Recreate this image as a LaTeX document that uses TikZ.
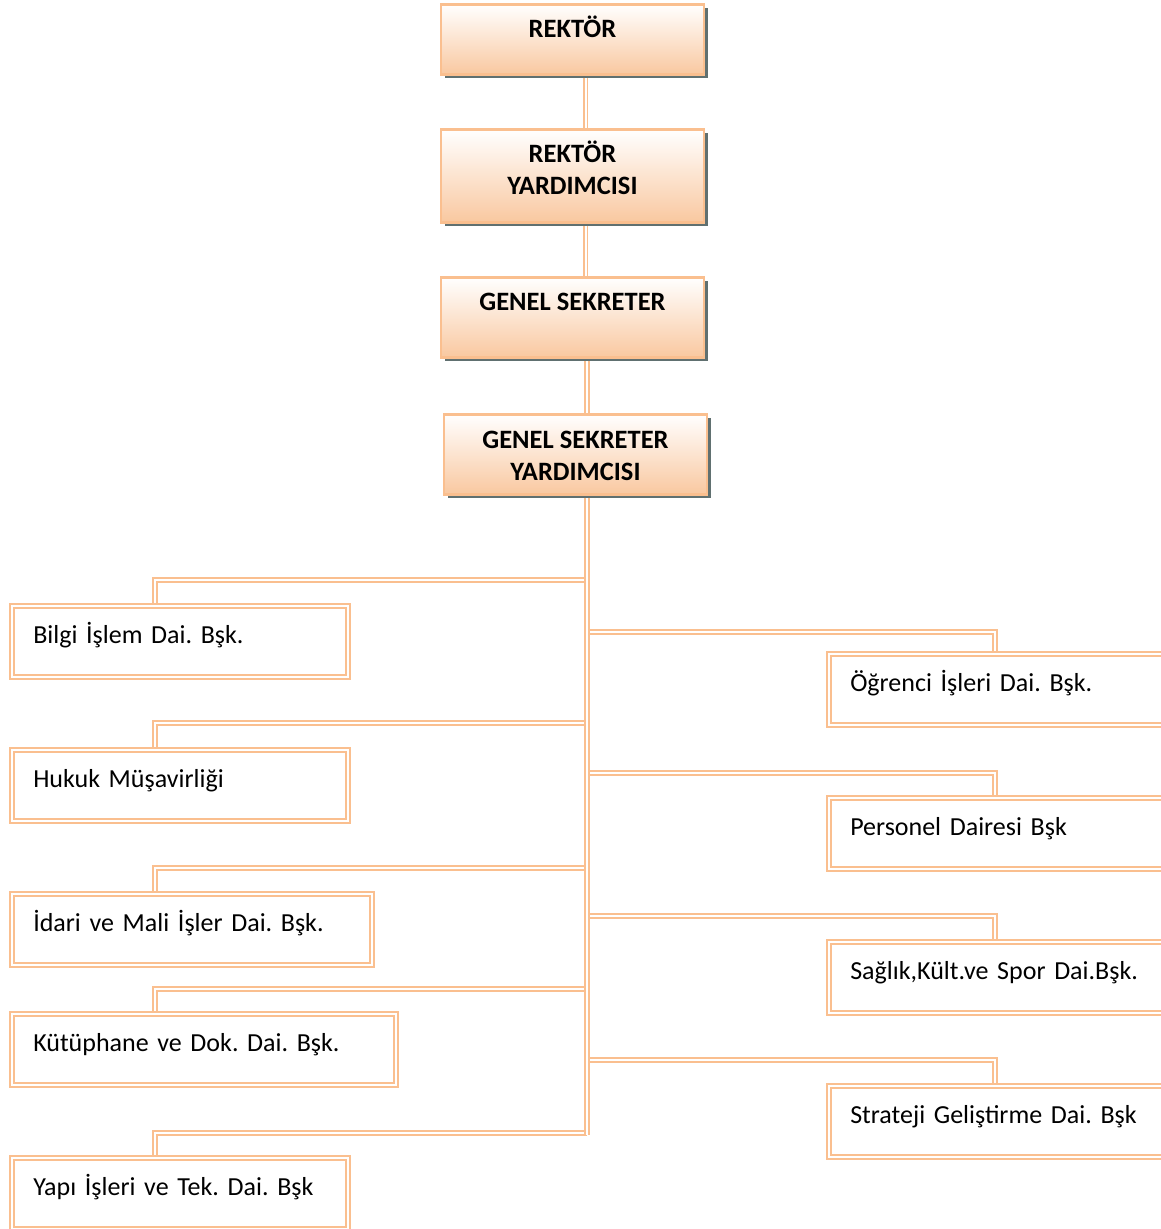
\documentclass[tikz,border=0pt]{standalone}
\usepackage{fontspec}
\setmainfont{Carlito}
\usetikzlibrary{shadows,backgrounds}
\definecolor{peach}{RGB}{250,191,143}
\definecolor{peachfill}{RGB}{249,200,160}
\definecolor{shadowgrey}{RGB}{96,112,112}
\newcommand{\boxfont}{\fontsize{26}{32}\selectfont\frenchspacing}
\newcommand{\headfont}{\fontsize{26.5}{32}\selectfont\bfseries}

\begin{document}
\begin{tikzpicture}[x=1pt,y=-1pt,
  topbox/.style={draw=peach, line width=2.5pt, top color=white, bottom color=peachfill, minimum width=263pt, anchor=north, inner sep=0pt,
    drop shadow={shadow xshift=4pt, shadow yshift=-4pt, fill=shadowgrey, opacity=1}},
  toptext/.style={anchor=base, yshift=-#1, align=center, inner sep=0pt, font=\headfont},
  toptext/.default=34pt,
  unitbox/.style={draw=peach, double=white, line width=1.5pt, double distance=2.5pt, fill=white, anchor=north west, align=left,
    inner xsep=21.5pt, inner ysep=0pt, text height=37.5pt, text depth=33.5pt, font=\boxfont},
  conn/.style={draw=peach, double=white, line width=1.8pt, double distance=2pt}]
\useasboundingbox (0,0) rectangle (1160,1229);

\node[topbox, minimum height=70pt, label={[toptext]north:REKTÖR}] (rektor) at (572.5,3) {};
\node[topbox, minimum height=93pt, label={[toptext=66pt]north:REKTÖR\\YARDIMCISI}] (rektoryrd) at (572.5,128) {};
\node[topbox, minimum height=80pt, label={[toptext]north:GENEL SEKRETER}] (gensek) at (572.5,276) {};
\node[topbox, minimum height=80pt, label={[toptext=67pt]north:GENEL SEKRETER\\YARDIMCISI}] (gensekyrd) at (575.5,413) {};

\node[unitbox, text width=293pt] (bilgi) at (11,605) {Bilgi İşlem Dai. Bşk.};
\node[unitbox, text width=293pt] (hukuk) at (11,749) {Hukuk Müşavirliği};
\node[unitbox, text width=317pt] (idari) at (11,893) {İdari ve Mali İşler Dai. Bşk.};
\node[unitbox, text width=341pt] (kutup) at (11,1013) {Kütüphane ve Dok. Dai. Bşk.};
\node[unitbox, text width=293pt] (yapi) at (11,1157) {Yapı İşleri ve Tek. Dai. Bşk};

\node[unitbox, text width=340pt] (ogrenci) at (828,653) {Öğrenci İşleri Dai. Bşk.};
\node[unitbox, text width=340pt] (personel) at (828,797) {Personel Dairesi Bşk};
\node[unitbox, text width=340pt] (saglik) at (828,941) {Sağlık,Kült.ve Spor Dai.Bşk.};
\node[unitbox, text width=340pt] (strateji) at (828,1085) {Strateji Geliştirme Dai. Bşk};

\coordinate (trunkend) at (587,1135);

\begin{scope}[on background layer]
\draw[conn] ([xshift=13pt]rektor.south) -- ([xshift=13pt]rektoryrd.north);
\draw[conn] ([xshift=13pt]rektoryrd.south) -- ([xshift=13pt]gensek.north);
\draw[conn] ([xshift=14.5pt]gensek.south) -- ([xshift=11.5pt]gensekyrd.north);
\foreach \dept/\y in {bilgi/580, hukuk/723, idari/868, kutup/989, yapi/1133}
  \draw[conn] (trunkend |- 0,\y) -| ([xshift=144pt]\dept.north west);
\foreach \dept/\y in {ogrenci/632, personel/773, saglik/916, strateji/1060}
  \draw[conn] (trunkend |- 0,\y) -| ([xshift=167pt]\dept.north west);
\draw[conn] ([xshift=11.5pt]gensekyrd.south) -- (trunkend);
\end{scope}
\end{tikzpicture}
\end{document}
